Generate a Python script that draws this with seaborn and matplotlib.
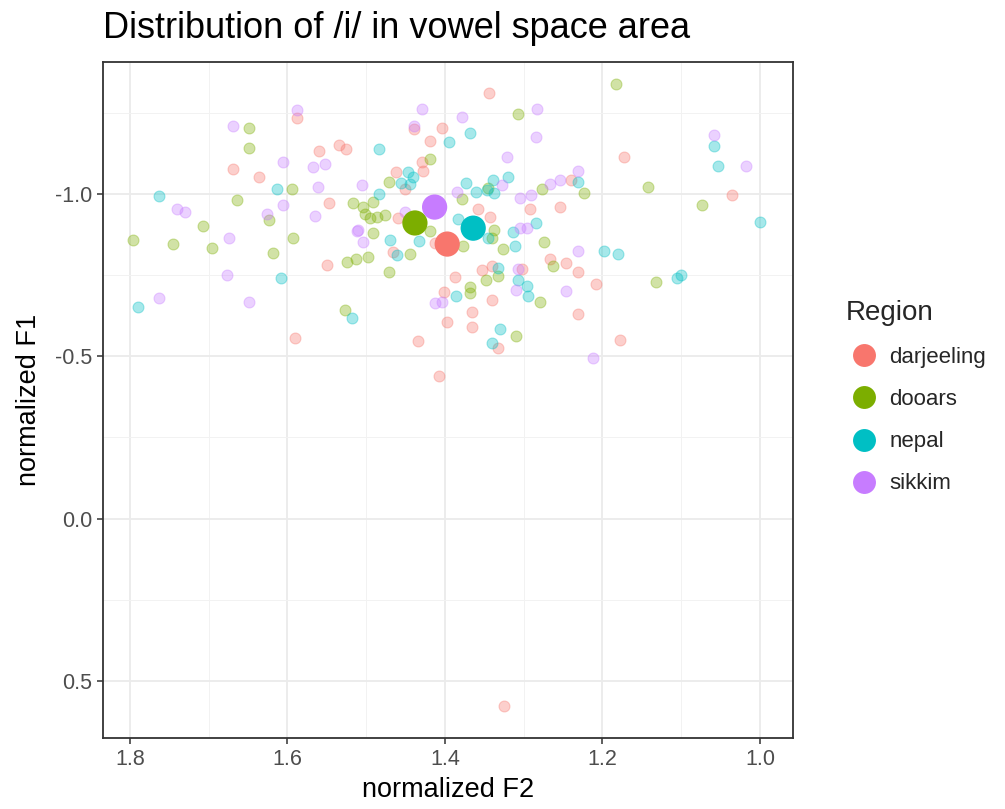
import numpy as np
import pandas as pd
import matplotlib
matplotlib.use("Agg")
import matplotlib.pyplot as plt
from matplotlib.lines import Line2D
from matplotlib.ticker import MultipleLocator
import seaborn as sns

# Normalized formant values (F2, F1) for /i/ tokens, by region
darjeeling_f2 = [1.344, 1.588, 1.560, 1.669, 1.636, 1.547, 1.439, 1.404, 1.419, 1.535,
                 1.526, 1.429, 1.428, 1.462, 1.451, 1.460, 1.358, 1.343, 1.292, 1.173,
                 1.036, 1.240, 1.466, 1.550, 1.387, 1.353, 1.340, 1.340, 1.401, 1.366,
                 1.397, 1.366, 1.333, 1.434, 1.408, 1.325, 1.590, 1.246, 1.267, 1.231,
                 1.208, 1.231, 1.178, 1.302, 1.413, 1.254]
darjeeling_f1 = [-1.311, -1.234, -1.132, -1.077, -1.052, -0.972, -1.200, -1.203, -1.163, -1.151,
                 -1.139, -1.099, -1.071, -1.068, -1.015, -0.926, -0.954, -0.929, -0.954, -1.114,
                 -0.997, -1.043, -0.821, -0.781, -0.744, -0.766, -0.778, -0.673, -0.698, -0.636,
                 -0.606, -0.590, -0.526, -0.547, -0.439, 0.577, -0.556, -0.787, -0.800, -0.760,
                 -0.723, -0.630, -0.550, -0.769, -0.849, -0.960]

dooars_f2 = [1.183, 1.307, 1.649, 1.649, 1.594, 1.664, 1.623, 1.707, 1.796, 1.745,
             1.695, 1.618, 1.593, 1.419, 1.471, 1.517, 1.504, 1.491, 1.502, 1.486,
             1.476, 1.495, 1.491, 1.378, 1.345, 1.277, 1.223, 1.142, 1.074, 1.132,
             1.524, 1.513, 1.497, 1.471, 1.444, 1.377, 1.340, 1.326, 1.274, 1.263,
             1.333, 1.348, 1.368, 1.368, 1.279, 1.310, 1.527, 1.338, 1.419]
dooars_f1 = [-1.339, -1.246, -1.203, -1.142, -1.015, -0.982, -0.920, -0.901, -0.858, -0.846,
             -0.834, -0.818, -0.864, -1.108, -1.037, -0.972, -0.960, -0.975, -0.938, -0.929,
             -0.935, -0.926, -0.880, -0.985, -1.018, -1.015, -1.003, -1.022, -0.966, -0.729,
             -0.791, -0.800, -0.806, -0.760, -0.815, -0.840, -0.864, -0.831, -0.852, -0.778,
             -0.747, -0.735, -0.713, -0.695, -0.667, -0.563, -0.643, -0.889, -0.886]

nepal_f2 = [1.368, 1.395, 1.484, 1.447, 1.441, 1.456, 1.444, 1.483, 1.373, 1.361,
            1.339, 1.320, 1.347, 1.338, 1.383, 1.314, 1.284, 1.613, 1.763, 1.608,
            1.789, 1.058, 1.053, 1.000, 1.198, 1.180, 1.105, 1.100, 1.470, 1.433,
            1.461, 1.345, 1.311, 1.333, 1.307, 1.296, 1.295, 1.386, 1.330, 1.340,
            1.518, 1.231]
nepal_f1 = [-1.188, -1.160, -1.139, -1.068, -1.052, -1.034, -1.031, -1.000, -1.034, -1.006,
            -1.043, -1.052, -1.012, -1.003, -0.923, -0.883, -0.911, -1.015, -0.994, -0.741,
            -0.652, -1.148, -1.086, -0.914, -0.824, -0.815, -0.741, -0.750, -0.858, -0.855,
            -0.812, -0.864, -0.840, -0.772, -0.735, -0.717, -0.686, -0.686, -0.584, -0.541,
            -0.618, -1.037]

sikkim_f2 = [1.588, 1.429, 1.378, 1.283, 1.439, 1.284, 1.321, 1.669, 1.606, 1.568,
             1.552, 1.561, 1.606, 1.626, 1.565, 1.740, 1.730, 1.674, 1.677, 1.763,
             1.649, 1.505, 1.385, 1.328, 1.305, 1.290, 1.267, 1.254, 1.231, 1.058,
             1.018, 1.231, 1.246, 1.212, 1.310, 1.413, 1.404, 1.504, 1.510, 1.305,
             1.296, 1.307, 1.451, 1.512]
sikkim_f1 = [-1.259, -1.262, -1.237, -1.262, -1.209, -1.176, -1.114, -1.209, -1.099, -1.083,
             -1.092, -1.022, -0.966, -0.938, -0.932, -0.954, -0.945, -0.864, -0.750, -0.680,
             -0.667, -1.028, -1.006, -1.028, -0.988, -0.997, -1.031, -1.043, -1.071, -1.182,
             -1.086, -0.824, -0.701, -0.495, -0.704, -0.664, -0.667, -0.852, -0.889, -0.895,
             -0.895, -0.769, -0.945, -0.886]

# Regional means
regions = ["darjeeling", "dooars", "nepal", "sikkim"]
mean_f2 = [1.397, 1.438, 1.364, 1.413]
mean_f1 = [-0.846, -0.911, -0.895, -0.960]

x_ticks = [1.8, 1.6, 1.4, 1.2, 1.0]
y_ticks = [-1.0, -0.5, 0.0, 0.5]

palette = dict(zip(regions, ["#F8766D", "#7CAE00", "#00BFC4", "#C77CFF"]))

tokens = pd.concat([
    pd.DataFrame({"F2": darjeeling_f2, "F1": darjeeling_f1, "Region": "darjeeling"}),
    pd.DataFrame({"F2": dooars_f2, "F1": dooars_f1, "Region": "dooars"}),
    pd.DataFrame({"F2": nepal_f2, "F1": nepal_f1, "Region": "nepal"}),
    pd.DataFrame({"F2": sikkim_f2, "F1": sikkim_f1, "Region": "sikkim"}),
], ignore_index=True)
means = pd.DataFrame({"F2": mean_f2, "F1": mean_f1, "Region": regions})

sns.set_theme(style="white")
plt.rcParams["font.family"] = ["Liberation Sans", "DejaVu Sans"]

fig = plt.figure(figsize=(10.05, 8.09), dpi=100)
ax = fig.add_axes([103 / 1005, 1 - 738 / 809, 690 / 1005, 676 / 809])

# individual tokens: translucent fill with a slightly stronger rim
for reg in regions:
    sub = tokens[tokens["Region"] == reg]
    col = palette[reg]
    sns.scatterplot(data=sub, x="F2", y="F1", ax=ax, s=62, color=col,
                    alpha=0.35, edgecolor=col, linewidth=0.8, legend=False, zorder=3)

# regional means
sns.scatterplot(data=means, x="F2", y="F1", hue="Region", palette=palette,
                hue_order=regions, s=330, linewidth=0, alpha=1, ax=ax,
                legend=False, zorder=4)

ax.set_xlim(1.834, 0.958)
ax.set_ylim(0.676, -1.407)
ax.set_xticks(x_ticks)
ax.set_xticklabels([f"{v:.1f}" for v in x_ticks])
ax.set_yticks(y_ticks)
ax.set_yticklabels([f"{v:.1f}" for v in y_ticks])
ax.xaxis.set_minor_locator(MultipleLocator(0.1))
ax.yaxis.set_minor_locator(MultipleLocator(0.25))

ax.grid(which="major", color="#EBEBEB", linewidth=1.3, zorder=0)
ax.grid(which="minor", color="#F2F2F2", linewidth=0.7, zorder=0)
ax.set_axisbelow(True)
for sp in ax.spines.values():
    sp.set_color("#333333")
    sp.set_linewidth(1.3)

ax.tick_params(axis="both", which="major", length=4, width=1.1, color="#333333",
               labelsize=15.5, labelcolor="#4D4D4D", pad=4, bottom=True, left=True)
ax.tick_params(axis="both", which="minor", length=0)

ax.set_xlabel("normalized F2", fontsize=19.5, color="black", labelpad=5)
ax.set_ylabel("normalized F1", fontsize=19.5, color="black", labelpad=9)
ax.set_title("Distribution of /i/ in vowel space area", fontsize=26, loc="left",
             pad=17, color="black")

handles = [Line2D([0], [0], marker="o", linestyle="", markersize=16.5,
                  markerfacecolor=palette[r], markeredgewidth=0, label=r)
           for r in regions]
fig.legend(handles=handles, title="Region", loc="upper left",
           bbox_to_anchor=(826 / 1005, 1 - 280 / 809), frameon=False,
           fontsize=16, title_fontsize=20, labelspacing=0.95,
           handletextpad=0.35, handlelength=1.6, alignment="left")

fig.savefig("out.png", dpi=100)
